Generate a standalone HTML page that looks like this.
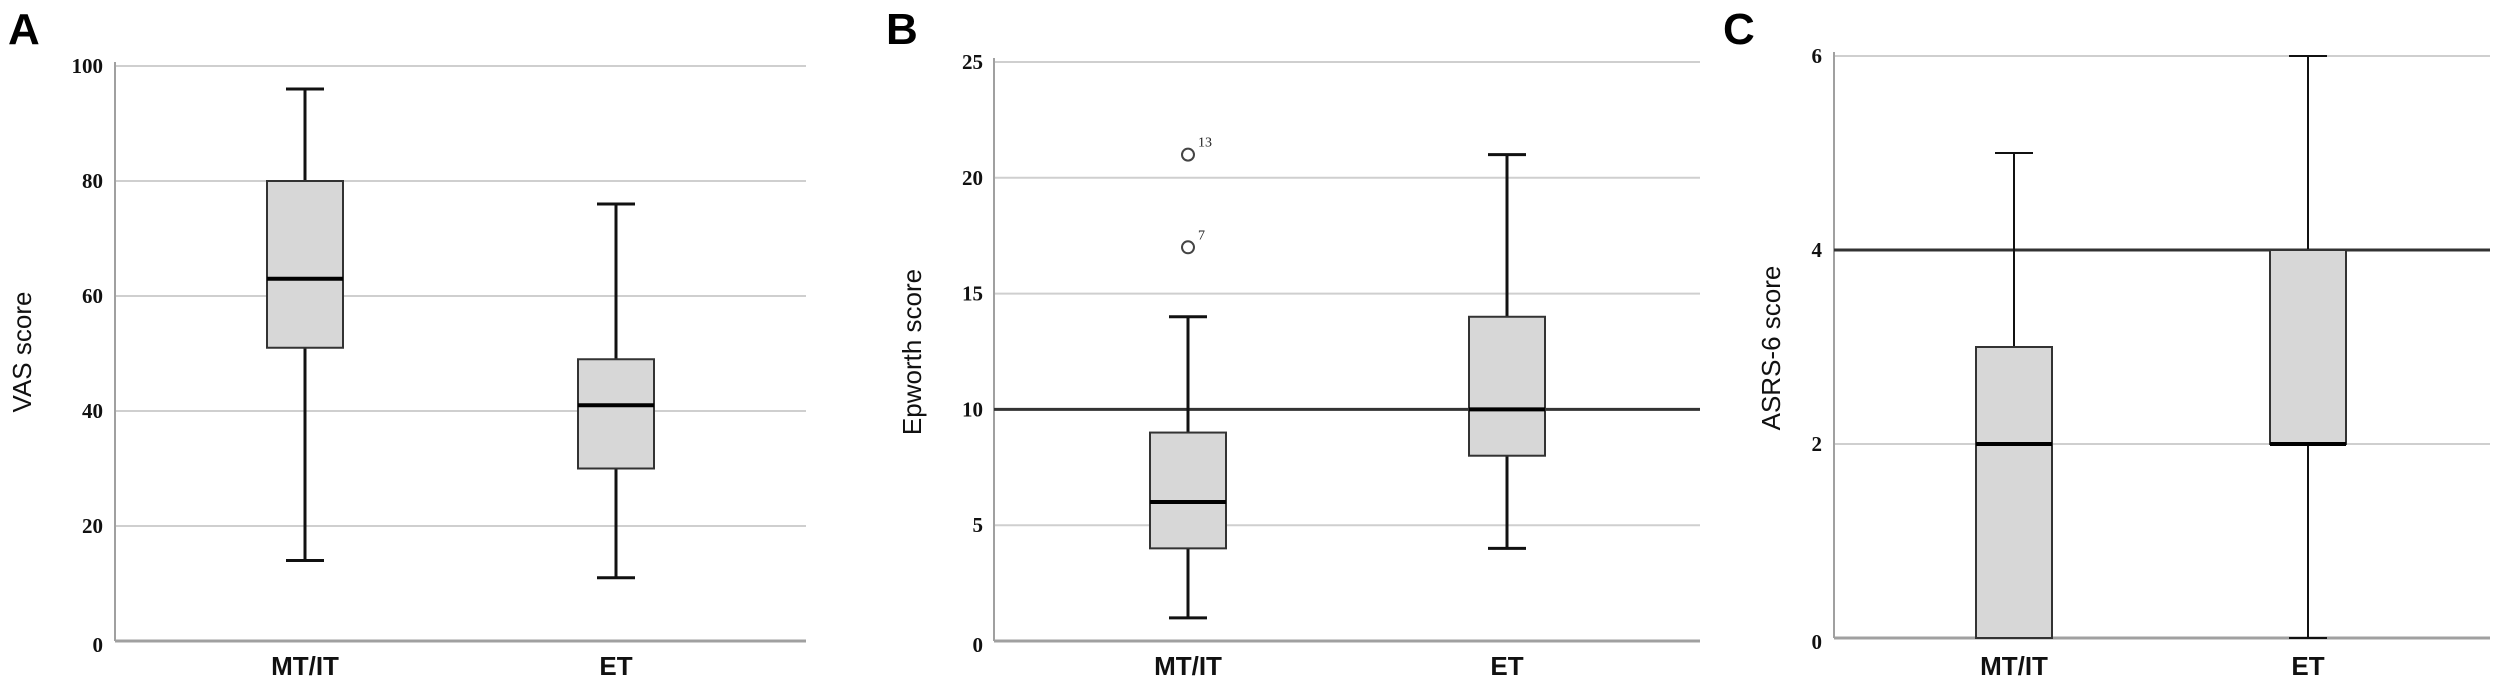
<!DOCTYPE html>
<html><head><meta charset="utf-8"><style>
html,body{margin:0;padding:0;background:#fff;}
svg{display:block;}
</style></head><body>
<svg id="fig" width="2500" height="687" viewBox="0 0 2500 687" xmlns="http://www.w3.org/2000/svg"></svg>
<script>
const categories = ["MT/IT", "ET"];
const vasLow = [14, 11], vasQ1 = [51, 30], vasMed = [63, 41], vasQ3 = [80, 49], vasHigh = [96, 76];
const vasTicks = [0, 20, 40, 60, 80, 100];
const epLow = [1, 4], epQ1 = [4, 8], epMed = [6, 10], epQ3 = [9, 14], epHigh = [14, 21];
const epTicks = [0, 5, 10, 15, 20, 25];
const epOutlierValues = [17, 21];
const epOutlierLabels = ["7", "13"];
const epRef = [10];
const asLow = [0, 0], asQ1 = [0, 2], asMed = [2, 2], asQ3 = [3, 4], asHigh = [5, 6];
const asTicks = [0, 2, 4, 6];
const asRef = [4];

const NS = "http://www.w3.org/2000/svg";
const svg = document.getElementById("fig");
function mk(tag, attrs, parent) {
  const e = document.createElementNS(NS, tag);
  for (const k in attrs) e.setAttribute(k, attrs[k]);
  (parent || svg).appendChild(e);
  return e;
}

function panel(cfg) {
  const g = mk("g", {});
  
  
  const y = v => cfg.y0 + (cfg.yTop - cfg.y0) * (v - cfg.min) / (cfg.max - cfg.min);
  const x = i => cfg.cx[i];
  const ww = cfg.whiskerW || 3;
  const L = mk("text", {x: cfg.letterX, y: 44, "font-family": "Liberation Sans, sans-serif", "font-weight": "bold", "font-size": 44, fill: "#000"}, g);
  L.textContent = cfg.letter;
  
  
  cfg.ticks.forEach(t => {
    const gl = mk("line", {x1: cfg.axisX, x2: cfg.right, y1: y(t), y2: y(t), stroke: "#cfcfcf", "stroke-width": 2}, g);
    
    
    const tl = mk("text", {x: cfg.tickX, y: y(t) + 7 + (t === cfg.min ? 4 : 0), "text-anchor": "end", "font-family": "Liberation Serif, serif", "font-weight": "bold", "font-size": 21, fill: "#111"}, g);
    tl.textContent = t;
    
    
  });
  const ya = mk("line", {x1: cfg.axisX, x2: cfg.axisX, y1: cfg.yTop - 4, y2: cfg.y0, stroke: "#a0a0a0", "stroke-width": 2}, g);
  
  
  const xa = mk("line", {x1: cfg.axisX, x2: cfg.right, y1: cfg.y0, y2: cfg.y0, stroke: "#a0a0a0", "stroke-width": 3}, g);
  
  
  (cfg.ref || []).forEach(r => {
    const rl = mk("line", {x1: cfg.axisX, x2: cfg.right, y1: y(r), y2: y(r), stroke: "#333", "stroke-width": 3}, g);
    
    
  });
  categories.forEach((c, i) => {
    const cx = x(i), hw = 38, cw = 19;
    const w1 = mk("line", {x1: cx, x2: cx, y1: y(cfg.high[i]), y2: y(cfg.q3[i]), stroke: "#111", "stroke-width": ww}, g);
    
    
    const w2 = mk("line", {x1: cx, x2: cx, y1: y(cfg.q1[i]), y2: y(cfg.low[i]), stroke: "#111", "stroke-width": ww}, g);
    
    
    const c1 = mk("line", {x1: cx - cw, x2: cx + cw, y1: y(cfg.high[i]), y2: y(cfg.high[i]), stroke: "#111", "stroke-width": ww}, g);
    
    
    const c2 = mk("line", {x1: cx - cw, x2: cx + cw, y1: y(cfg.low[i]), y2: y(cfg.low[i]), stroke: "#111", "stroke-width": ww}, g);
    
    
    const b = mk("rect", {x: cx - hw, y: y(cfg.q3[i]), width: 2 * hw, height: Math.max(0, y(cfg.q1[i]) - y(cfg.q3[i])), fill: "#d7d7d7", stroke: "#333", "stroke-width": 2}, g);
    
    
    const m = mk("line", {x1: cx - hw, x2: cx + hw, y1: y(cfg.med[i]), y2: y(cfg.med[i]), stroke: "#000", "stroke-width": 4}, g);
    
    
    const lab = mk("text", {x: cx, y: 675, "text-anchor": "middle", "font-family": "Liberation Sans, sans-serif", "font-weight": "bold", "font-size": 26, fill: "#111"}, g);
    lab.textContent = c;
    
    
  });
  (cfg.outliers || []).forEach((v, k) => {
    const cx = x(0);
    const o = mk("circle", {cx: cx, cy: y(v), r: 6, fill: "#fff", stroke: "#444", "stroke-width": 2}, g);
    
    
    const ol = mk("text", {x: cx + 10, y: y(v) - 8, "font-family": "Liberation Serif, serif", "font-size": 14, fill: "#222"}, g);
    ol.textContent = cfg.outlierLabels[k];
    
    
  });
  const yt = mk("text", {x: cfg.titleX, y: cfg.titleY, "text-anchor": "middle", "font-family": "Liberation Sans, sans-serif", "font-size": 26, fill: "#111", transform: `rotate(-90 ${cfg.titleX} ${cfg.titleY})`}, g);
  yt.textContent = cfg.title;
  
  
}

panel({name: "panel-a-vas", letter: "A", letterX: 8, axisX: 115, right: 806, y0: 641, yTop: 66, min: 0, max: 100,
  ticks: vasTicks, cx: [305, 616], tickX: 103, low: vasLow, q1: vasQ1, med: vasMed, q3: vasQ3, high: vasHigh,
  title: "VAS score", titleX: 31, titleY: 352});
panel({name: "panel-b-epworth", letter: "B", letterX: 886, axisX: 994, right: 1700, y0: 641, yTop: 62, min: 0, max: 25,
  ticks: epTicks, cx: [1188, 1507], tickX: 983, low: epLow, q1: epQ1, med: epMed, q3: epQ3, high: epHigh,
  ref: epRef, outliers: epOutlierValues, outlierLabels: epOutlierLabels,
  title: "Epworth score", titleX: 921, titleY: 352});
panel({name: "panel-c-asrs", letter: "C", letterX: 1723, axisX: 1834, right: 2490, y0: 638, yTop: 56, min: 0, max: 6,
  ticks: asTicks, cx: [2014, 2308], tickX: 1822, low: asLow, q1: asQ1, med: asMed, q3: asQ3, high: asHigh,
  ref: asRef, whiskerW: 2, title: "ASRS-6 score", titleX: 1780, titleY: 348});
</script>
</body></html>
